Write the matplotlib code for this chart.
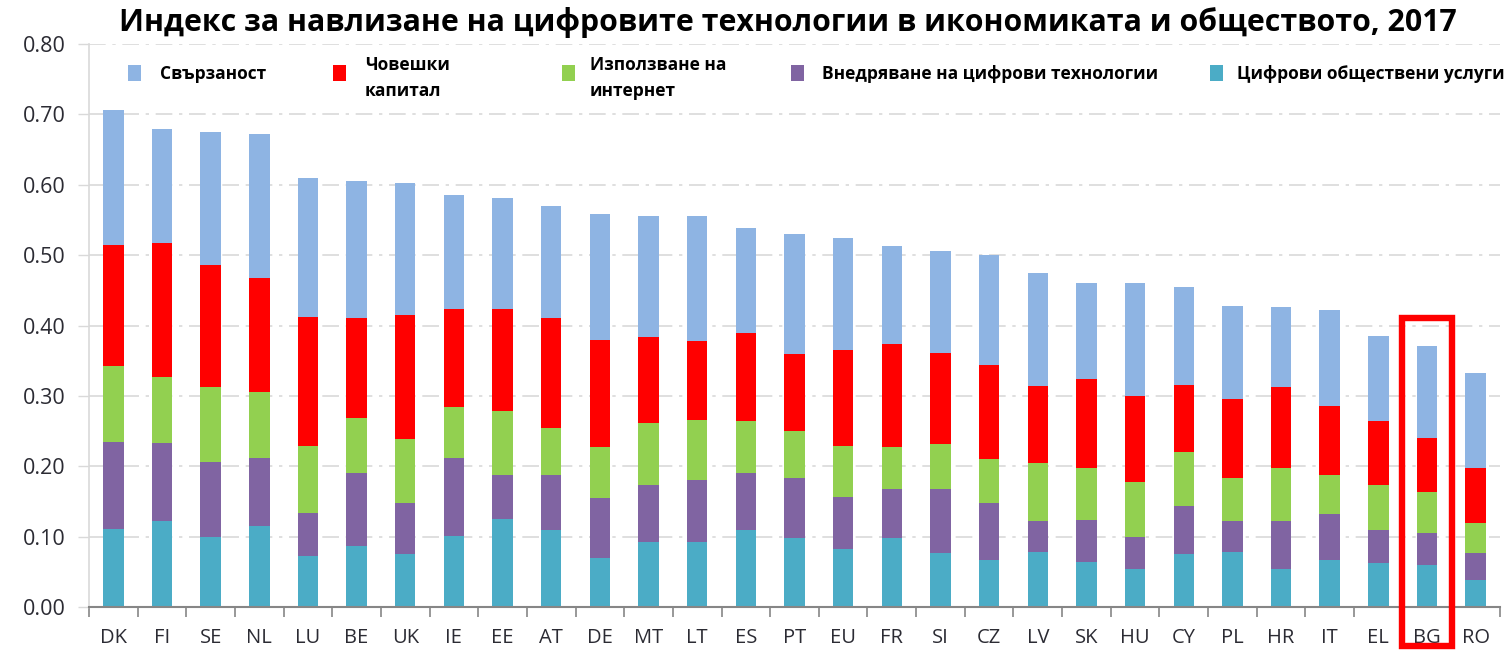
import matplotlib
matplotlib.use('Agg')
import matplotlib.pyplot as plt
from matplotlib.patches import Rectangle
import numpy as np

countries = ['DK', 'FI', 'SE', 'NL', 'LU', 'BE', 'UK', 'IE', 'EE', 'AT', 'DE', 'MT', 'LT', 'ES',
             'PT', 'EU', 'FR', 'SI', 'CZ', 'LV', 'SK', 'HU', 'CY', 'PL', 'HR', 'IT', 'EL', 'BG', 'RO']

# Components (bottom -> top)
public_services = [0.111, 0.122, 0.099, 0.115, 0.073, 0.086, 0.076, 0.101, 0.125, 0.110, 0.070, 0.092, 0.093, 0.109,
                   0.098, 0.083, 0.098, 0.077, 0.067, 0.078, 0.064, 0.054, 0.075, 0.078, 0.054, 0.067, 0.062, 0.060, 0.039]
integration = [0.124, 0.111, 0.107, 0.097, 0.060, 0.104, 0.072, 0.111, 0.063, 0.078, 0.085, 0.081, 0.088, 0.082,
               0.085, 0.074, 0.069, 0.091, 0.081, 0.044, 0.059, 0.046, 0.068, 0.044, 0.068, 0.065, 0.048, 0.045, 0.038]
internet_use = [0.108, 0.094, 0.107, 0.093, 0.096, 0.078, 0.091, 0.072, 0.091, 0.067, 0.072, 0.088, 0.085, 0.073,
                0.067, 0.072, 0.060, 0.063, 0.063, 0.083, 0.074, 0.078, 0.077, 0.061, 0.075, 0.055, 0.063, 0.058, 0.043]
human_capital = [0.172, 0.190, 0.173, 0.162, 0.183, 0.142, 0.176, 0.140, 0.144, 0.155, 0.152, 0.123, 0.112, 0.125,
                 0.110, 0.136, 0.147, 0.130, 0.133, 0.109, 0.127, 0.122, 0.096, 0.113, 0.116, 0.099, 0.091, 0.077, 0.077]
connectivity = [0.191, 0.162, 0.189, 0.205, 0.197, 0.195, 0.187, 0.162, 0.158, 0.160, 0.180, 0.172, 0.177, 0.149,
                0.170, 0.159, 0.139, 0.145, 0.156, 0.160, 0.136, 0.160, 0.139, 0.131, 0.113, 0.136, 0.121, 0.131, 0.136]

series_labels = ['Свързаност', 'Човешки\nкапитал', 'Използване на\nинтернет',
                 'Внедряване на цифрови технологии', 'Цифрови обществени услуги']
series_colors = ['#8EB4E3', '#FF0000', '#92D050', '#8064A2', '#4BACC6']

title = 'Индекс за навлизане на цифровите технологии в икономиката и обществото, 2017'
highlight = 'BG'

FONT = ['Open Sans', 'DejaVu Sans']
plt.rcParams['font.family'] = FONT

W, H = 1509, 656
fig = plt.figure(figsize=(W / 100, H / 100), dpi=100)
ax = fig.add_axes([89 / W, 1 - 607 / H, (1500 - 89) / W, (607 - 44) / H])

x = np.arange(len(countries))
stack = [public_services, integration, internet_use, human_capital, connectivity]
stack_colors = series_colors[::-1]
bottom = np.zeros(len(countries))
for vals, col in zip(stack, stack_colors):
    v = np.array(vals)
    ax.bar(x, v, 0.42, bottom=bottom, color=col, zorder=3, linewidth=0)
    bottom += v

ax.set_xlim(-0.5, len(countries) - 0.5)
ax.set_ylim(0, 0.8)
yt = np.arange(0, 0.81, 0.1)
ax.set_yticks(yt)
ax.set_yticklabels(['%.2f' % v for v in yt], fontsize=15.5, color='#2b2b33')
ax.set_xticks(x)
ax.set_xticklabels(countries, fontsize=14.5, color='#2b2b33')
ax.set_xticks(np.arange(-0.5, len(countries), 1.0), minor=True)
ax.tick_params(axis='x', which='major', length=0, pad=15)
ax.tick_params(axis='x', which='minor', length=7, width=1.2, color='#868686', direction='out')
ax.tick_params(axis='y', length=8, width=1, color='#d9d9d9', pad=9)

ax.yaxis.grid(True, color='#d9d9d9', linewidth=1.2, linestyle=(0, (10, 4, 2, 4)), zorder=0)
ax.set_axisbelow(True)
for s in ['top', 'right']:
    ax.spines[s].set_visible(False)
ax.spines['left'].set_color('#d9d9d9')
ax.spines['left'].set_linewidth(1.2)
ax.spines['bottom'].set_color('#868686')
ax.spines['bottom'].set_linewidth(1.5)
ax.spines['bottom'].set_zorder(4)

# highlight box
hi = countries.index(highlight)
ax.add_patch(Rectangle((hi - 0.52, -0.055), 1.04, 0.411 + 0.055, fill=False,
                       edgecolor='#FF0000', linewidth=4.6, clip_on=False, zorder=5))

# title
fig.text(787.5 / W, 1 - 23 / H, title, ha='center', va='center', fontsize=21.8,
         fontweight='bold', color='black')

# legend (manual placement)
leg_sq_x = [128, 333, 562, 791, 1210]
leg_tx_x = [160, 365, 590, 822, 1237]
for lab, col, sx, tx in zip(series_labels, series_colors, leg_sq_x, leg_tx_x):
    fig.patches.append(Rectangle((sx / W, 1 - 81 / H), 13 / W, 16 / H, facecolor=col,
                                 edgecolor='none', transform=fig.transFigure, figure=fig))
    ty = 78 if '\n' in lab else 74
    fig.text(tx / W, 1 - ty / H, lab, ha='left', va='center', fontsize=12.5,
             fontweight='bold', color='black', linespacing=1.55)

fig.savefig('out.png', dpi=100)
